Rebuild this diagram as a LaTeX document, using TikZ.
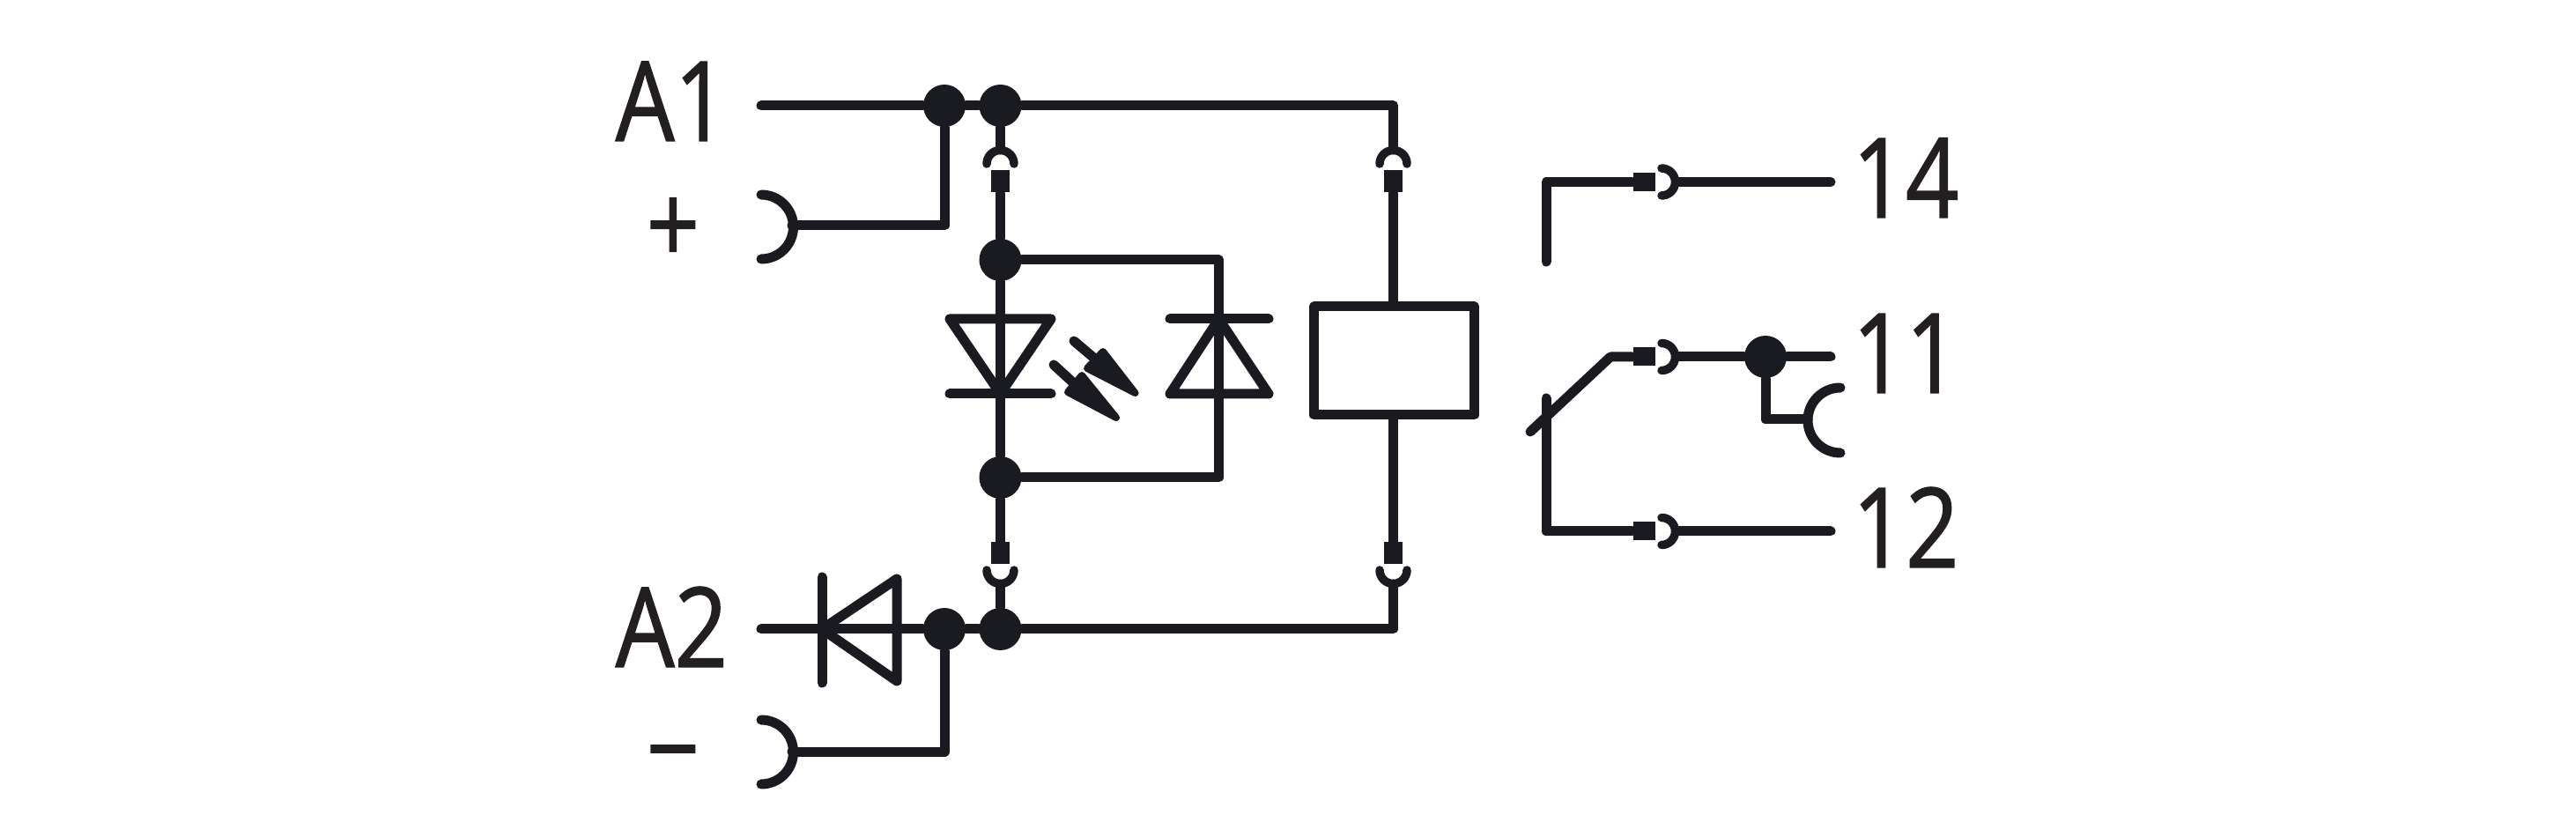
\documentclass[tikz,border=0pt]{standalone}
\usepackage{fontspec}
\newfontfamily\lblfont[FakeStretch=0.84,FakeBold=1.1]{Open Sans}
\definecolor{ink}{HTML}{1A1B20}
\definecolor{lblink}{HTML}{231F20}
\begin{document}
\begin{tikzpicture}[
  wire/.style={draw=ink, line width=0.11cm, line cap=round, line join=round},
  fork/.style={draw=ink, line width=0.095cm, line cap=round},
  jdot/.style={circle, fill=ink, inner sep=0pt, minimum size=0.48cm},
  termv/.style={rectangle, fill=ink, inner sep=0pt, minimum width=0.21cm, minimum height=0.25cm},
  termh/.style={rectangle, fill=ink, inner sep=0pt, minimum width=0.25cm, minimum height=0.21cm},
  lbl/.style={inner sep=0pt, text=lblink, font=\lblfont\fontsize{35.8}{36}\selectfont},
  ray/.style={draw=ink, fill=ink, line width=0.08cm, line join=round}
]
\useasboundingbox (0,0) rectangle (29.24,-9.42);
% labels
\node[lbl, anchor=base west] (la1) at (6.98,-1.60) {A1};
\node[lbl] (lplus) at (7.64,-2.62) {+};
\node[lbl, anchor=base west] (la2) at (6.98,-7.57) {A2};
\node[lbl] (lminus) at (7.64,-8.70) {−};
\node[lbl, anchor=base west] (l14) at (21.02,-2.47) {14};
\node[lbl, anchor=base west] (l11) at (21.02,-4.46) {11};
\node[lbl, anchor=base west] (l12) at (21.02,-6.44) {12};
% junctions
\node[jdot] (ja) at (10.72,-1.20) {};
\node[jdot] (jb) at (11.355,-1.20) {};
\node[jdot] (jc) at (11.355,-2.95) {};
\node[jdot] (jd) at (11.355,-5.42) {};
\node[jdot] (je) at (10.72,-7.14) {};
\node[jdot] (jf) at (11.355,-7.14) {};
\node[jdot] (jg) at (20.04,-4.05) {};
% terminal blocks
\node[termv] (sa) at (11.355,-2.06) {};
\node[termv] (sb) at (15.815,-2.06) {};
\node[termv] (sc) at (11.355,-6.275) {};
\node[termv] (sd) at (15.815,-6.275) {};
\node[termh] (se) at (18.66,-2.065) {};
\node[termh] (sf) at (18.66,-4.05) {};
\node[termh] (sg) at (18.66,-6.03) {};
% coil
\node[wire, rectangle, minimum width=1.82cm, minimum height=1.23cm, inner sep=0pt] (coil) at (15.825,-4.095) {};
% free ends
\coordinate (a1end) at (8.64,-1.20);
\coordinate (a2end) at (8.64,-7.14);
\coordinate (tr) at (15.815,-1.20);
\coordinate (br) at (15.815,-7.14);
\coordinate (forka) at (11.355,-1.70);
\coordinate (forkb) at (15.815,-1.70);
\coordinate (forkc) at (11.355,-6.63);
\coordinate (forkd) at (15.815,-6.63);
\coordinate (cupp) at (8.99,-2.56);
\coordinate (cupm) at (8.99,-8.53);
\coordinate (cupn) at (20.52,-4.76);
\coordinate (rj) at (13.835,-2.95);
\coordinate (rk) at (13.835,-5.42);
\coordinate (ce) at (19.04,-2.065);
\coordinate (cf) at (19.04,-4.05);
\coordinate (cg) at (19.04,-6.03);
\coordinate (t14) at (20.78,-2.065);
\coordinate (t11) at (20.78,-4.05);
\coordinate (t12) at (20.78,-6.03);
\coordinate (knee) at (18.28,-4.05);
\coordinate (arm) at (17.37,-4.90);
\coordinate (no) at (17.55,-2.065);
\coordinate (noend) at (17.55,-2.97);
\coordinate (nc) at (17.55,-6.03);
\coordinate (ncend) at (17.55,-4.52);
% rails
\draw[wire] (a1end) -- (ja) -- (jb) -- (tr) -- (forkb);
\draw[wire] (a2end) -- (je) -- (jf) -- (br) -- (forkd);
\draw[wire] (ja) |- (cupp);
\draw[wire] (je) |- (cupm);
\draw[wire] (jb) -- (forka);
\draw[wire] (sa) -- (jc);
\draw[wire] (jc) -- (jd);
\draw[wire] (jd) -- (sc);
\draw[wire] (forkc) -- (jf);
\draw[wire] (jc) -- (rj) -- (rk) -- (jd);
\draw[wire] (sb) -- (sb |- coil.north);
\draw[wire] (sb |- coil.south) -- (sd);
% forks
\draw[fork] (11.2,-1.86) arc (180:0:0.155);
\draw[fork] (15.66,-1.86) arc (180:0:0.155);
\draw[fork] (11.2,-6.47) arc (180:360:0.155);
\draw[fork] (15.66,-6.47) arc (180:360:0.155);
\draw[wire] (8.64,-2.21) arc (90:-90:0.365);
\draw[wire] (8.64,-8.17) arc (90:-90:0.365);
\draw[wire] (20.89,-4.40) arc (90:270:0.37);
% diodes
\draw[wire] (10.78,-3.62) -- (11.93,-3.62) -- (11.355,-4.47) -- cycle;
\draw[wire] (10.78,-4.47) -- (11.93,-4.47);
\draw[wire] (13.28,-3.62) -- (14.40,-3.62);
\draw[wire] (13.28,-4.47) -- (14.40,-4.47) -- (13.835,-3.62) -- cycle;
\draw[wire] (9.33,-6.55) -- (9.33,-7.75);
\draw[wire] (9.33,-7.14) -- (10.18,-6.57) -- (10.18,-7.73) -- cycle;
% light rays
\draw[wire] (12.19,-3.87) -- (12.45,-4.09);
\draw[ray] (12.52,-3.99) -- (12.34,-4.18) -- (12.885,-4.46) -- cycle;
\draw[wire] (11.96,-4.14) -- (12.20,-4.36);
\draw[ray] (12.28,-4.26) -- (12.12,-4.45) -- (12.67,-4.74) -- cycle;
% contacts
\draw[wire] (noend) -- (no) -- (se);
\draw[wire] (arm) -- (knee) -- (sf);
\draw[wire] (ncend) -- (nc) -- (sg);
\draw[fork] (18.86,-1.91) arc (90:-90:0.155);
\draw[fork] (18.86,-3.895) arc (90:-90:0.155);
\draw[fork] (18.86,-5.875) arc (90:-90:0.155);
\draw[wire] (ce) -- (t14);
\draw[wire] (cf) -- (jg) -- (t11);
\draw[wire] (cg) -- (t12);
\draw[wire] (jg) |- (cupn);
\end{tikzpicture}
\end{document}
